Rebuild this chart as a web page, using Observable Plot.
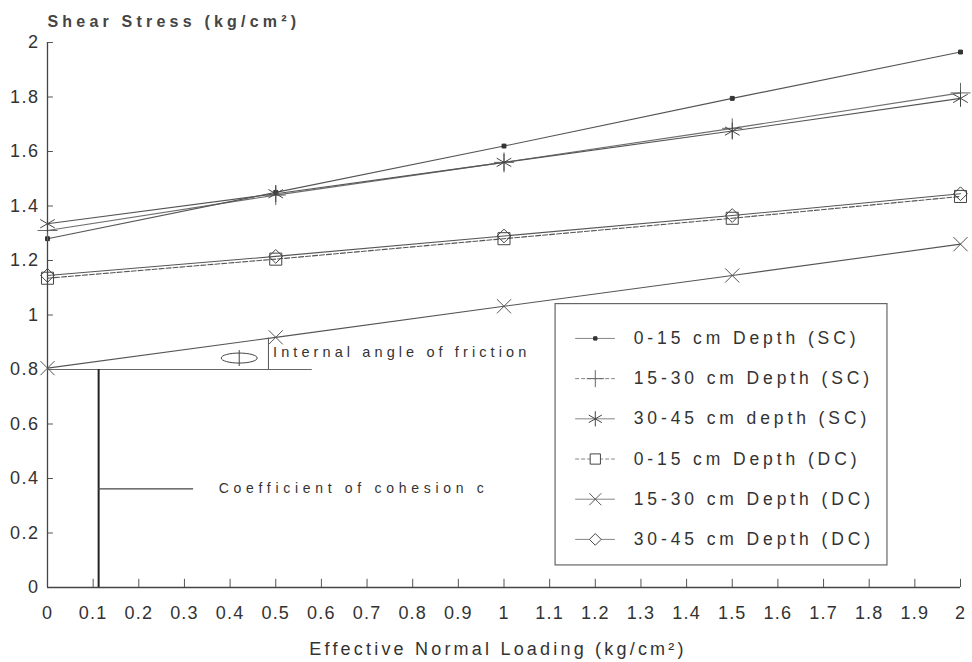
<!DOCTYPE html>
<html><head><meta charset="utf-8">
<script src="https://cdn.jsdelivr.net/npm/d3@7"></script>
<script src="https://cdn.jsdelivr.net/npm/@observablehq/plot@0.6"></script>
<style>
body{margin:0;background:#fff;}
#chart svg{font-family:"Liberation Sans",Arial,sans-serif;}
.ytl text{letter-spacing:1.5px;}
.xtl text{letter-spacing:1.2px;}
.ttl text{letter-spacing:4.2px;}
.xlab text{letter-spacing:3.2px;}
.leg text{letter-spacing:3.9px;}
.ann1 text{letter-spacing:4.1px;}
.ann2 text{letter-spacing:4.7px;}
</style></head><body><div id="chart"></div>
<script>
// ---- data ----
const loading = [0, 0.5, 1, 1.5, 2];
const sc0_15  = [1.28, 1.45, 1.62, 1.795, 1.965];
const sc15_30 = [1.31, 1.44, 1.56, 1.685, 1.815];
const sc30_45 = [1.335, 1.445, 1.56, 1.675, 1.795];
const dc0_15  = [1.135, 1.205, 1.28, 1.355, 1.435];
const dc15_30 = [0.805, 0.918, 1.032, 1.145, 1.26];
const dc30_45 = [1.145, 1.215, 1.29, 1.365, 1.445];
const seriesNames = ["0-15 cm Depth (SC)", "15-30 cm Depth (SC)", "30-45 cm depth (SC)",
                     "0-15 cm Depth (DC)", "15-30 cm Depth (DC)", "30-45 cm Depth (DC)"];
const xTickValues = [0,0.1,0.2,0.3,0.4,0.5,0.6,0.7,0.8,0.9,1,1.1,1.2,1.3,1.4,1.5,1.6,1.7,1.8,1.9,2];
const xTickLabels = ["0","0.1","0.2","0.3","0.4","0.5","0.6","0.7","0.8","0.9","1","1.1","1.2","1.3","1.4","1.5","1.6","1.7","1.8","1.9","2"];
const yTickValues = [0,0.2,0.4,0.6,0.8,1,1.2,1.4,1.6,1.8,2];
const yTickLabels = ["0","0.2","0.4","0.6","0.8","1","1.2","1.4","1.6","1.8","2"];
const yTitle = "Shear Stress (kg/cm²)";
const xTitle = "Effective Normal Loading (kg/cm²)";
const frictionLabel = "Internal angle of friction";
const cohesionLabel = "Coefficient of cohesion c";
// annotation geometry (data units)
const cohesionValue = 0.8;        // intercept line
const frictionRun = 0.58;         // horizontal reference length
const cohesionX = 0.112;          // vertical cohesion bar
const cohesionLeaderY = 0.362;
const cohesionLeaderEnd = 0.32;
const frictionRiseX = 0.484;
const frictionRiseTop = 0.915;

// ---- build tables ----
const allSeries = [sc0_15, sc15_30, sc30_45, dc0_15, dc15_30, dc30_45];
const rows = allSeries.flatMap((vals, s) => vals.map((v, i) => ({series: seriesNames[s], idx: s, x: loading[i], y: v})));

const ink = "#333";
const lineInk = "#555";
const ellipse = {draw(ctx, size) {
  const rx = 18, ry = 5, k = 0.5523;
  ctx.moveTo(rx, 0);
  ctx.bezierCurveTo(rx, ry*k, rx*k, ry, 0, ry);
  ctx.bezierCurveTo(-rx*k, ry, -rx, ry*k, -rx, 0);
  ctx.bezierCurveTo(-rx, -ry*k, -rx*k, -ry, 0, -ry);
  ctx.bezierCurveTo(rx*k, -ry, rx, -ry*k, rx, 0);
  ctx.closePath();
  ctx.moveTo(0, -8); ctx.lineTo(0, 8);
}};
const styles = [
  {symbol: "square", r: 2.2, fill: "#333", stroke: "#333", dash: null, lineOpacity: 1},
  {symbol: "plus", r: 6.5, fill: "none", stroke: "#666", dash: null, lineOpacity: 0.85},
  {symbol: "asterisk", r: 8, fill: "none", stroke: "#444", dash: null, lineOpacity: 1},
  {symbol: "square", r: 6.8, fill: "none", stroke: "#444", dash: "5,2", lineOpacity: 1},
  {symbol: "times", r: 6.5, fill: "none", stroke: "#555", dash: null, lineOpacity: 1},
  {symbol: "diamond2", r: 6.2, fill: "none", stroke: "#444", dash: null, lineOpacity: 1}
];

const seriesMarks = allSeries.flatMap((vals, s) => {
  const data = rows.filter(d => d.idx === s);
  const st = styles[s];
  return [
    Plot.line(data, {x: "x", y: "y", stroke: lineInk, strokeWidth: 1.1, strokeDasharray: st.dash, strokeOpacity: st.lineOpacity}),
    Plot.dot(data, {x: "x", y: "y", symbol: () => st.symbol, r: st.r, fill: st.fill, stroke: st.stroke, strokeWidth: 1})
  ];
});

// legend (inside plot, data coords)
const legX1 = 1.113, legX2 = 1.84, legTop = 1.04, legBottom = 0.081;
const legFirstOffset = 0.126, legStep = 0.1475;
const legRows = seriesNames.map((name, i) => ({name, i, y: legTop - legFirstOffset - legStep * i}));
const legMarks = [
  Plot.rect([0], {x1: legX1, x2: legX2, y1: legBottom, y2: legTop, fill: "white", stroke: "#666", strokeWidth: 1.2}),
  ...legRows.flatMap(d => {
    const st = styles[d.i];
    return [
      Plot.ruleY([d], {x1: 1.157, x2: 1.244, y: "y", stroke: "#777", strokeWidth: 0.9, strokeDasharray: d.i === 3 || d.i === 1 ? "4,2" : null}),
      Plot.dot([d], {x: 1.2, y: "y", symbol: () => st.symbol, r: st.r * (d.i === 2 ? 0.9 : 0.85), fill: st.fill === "none" ? "white" : st.fill, stroke: st.stroke, strokeWidth: 1})
    ];
  }),
  Plot.text(legRows, {x: 1.284, y: "y", text: "name", textAnchor: "start", fontSize: 17.5, fill: ink, className: "leg"})
];

const annMarks = [
  Plot.ruleY([cohesionValue], {x1: 0, x2: frictionRun, stroke: "#666", strokeWidth: 1}),
  Plot.ruleX([cohesionX], {y1: 0, y2: cohesionValue, stroke: "#222", strokeWidth: 2}),
  Plot.ruleY([cohesionLeaderY], {x1: cohesionX, x2: cohesionLeaderEnd, stroke: "#444", strokeWidth: 1.2}),
  Plot.ruleX([frictionRiseX], {y1: cohesionValue, y2: frictionRiseTop, stroke: "#555", strokeWidth: 1}),
  Plot.dot([0], {x: 0.42, y: 0.842, symbol: () => ellipse, r: 5, fill: "none", stroke: "#444", strokeWidth: 1}),
  Plot.text([frictionLabel], {x: 0.494, y: 0.862, text: d => d, textAnchor: "start", fontSize: 14.5, fill: ink, className: "ann1"}),
  Plot.text([cohesionLabel], {x: 0.375, y: cohesionLeaderY, text: d => d, textAnchor: "start", fontSize: 14, fill: ink, className: "ann2"})
];

const chart = Plot.plot({
  width: 972,
  height: 662,
  marginLeft: 47,
  marginRight: 12,
  marginTop: 42,
  marginBottom: 75,
  style: {background: "#fff", color: ink, fontFamily: "Liberation Sans, Arial, sans-serif"},
  x: {domain: [0, 2]},
  y: {domain: [0, 2]},
  marks: [
    Plot.axisX({ticks: xTickValues, tickSize: 0, tickPadding: 19, tickFormat: d => xTickLabels[xTickValues.indexOf(d)], fontSize: 18, label: null, fill: ink, className: "xtl"}),
    Plot.axisY({ticks: yTickValues, tickSize: 0, tickPadding: 8, tickFormat: d => yTickLabels[yTickValues.indexOf(d)], fontSize: 18, fontWeight: 500, label: null, fill: ink, className: "ytl"}),
    Plot.ruleX(xTickValues, {y1: 0, y2: 0.03, stroke: "#555", strokeWidth: 1}),
    Plot.ruleY(yTickValues, {x1: 0, x2: 0.013, stroke: "#555", strokeWidth: 1}),
    Plot.ruleY([0], {x1: 0, x2: 2, stroke: "#444", strokeWidth: 1.3}),
    Plot.ruleX([0], {y1: 0, y2: 2, stroke: "#444", strokeWidth: 1.3}),
    ...annMarks,
    ...seriesMarks,
    ...legMarks,
    Plot.text([yTitle], {frameAnchor: "top-left", lineAnchor: "middle", dx: 0, dy: -21, text: d => d, textAnchor: "start", fontSize: 16, fontWeight: 600, fill: "#444", className: "ttl"}),
    Plot.text([xTitle], {frameAnchor: "bottom", lineAnchor: "middle", dx: -6, dy: 62, text: d => d, fontSize: 18, fill: ink, className: "xlab"})
  ]
});
document.getElementById("chart").appendChild(chart);
</script>
</body></html>
